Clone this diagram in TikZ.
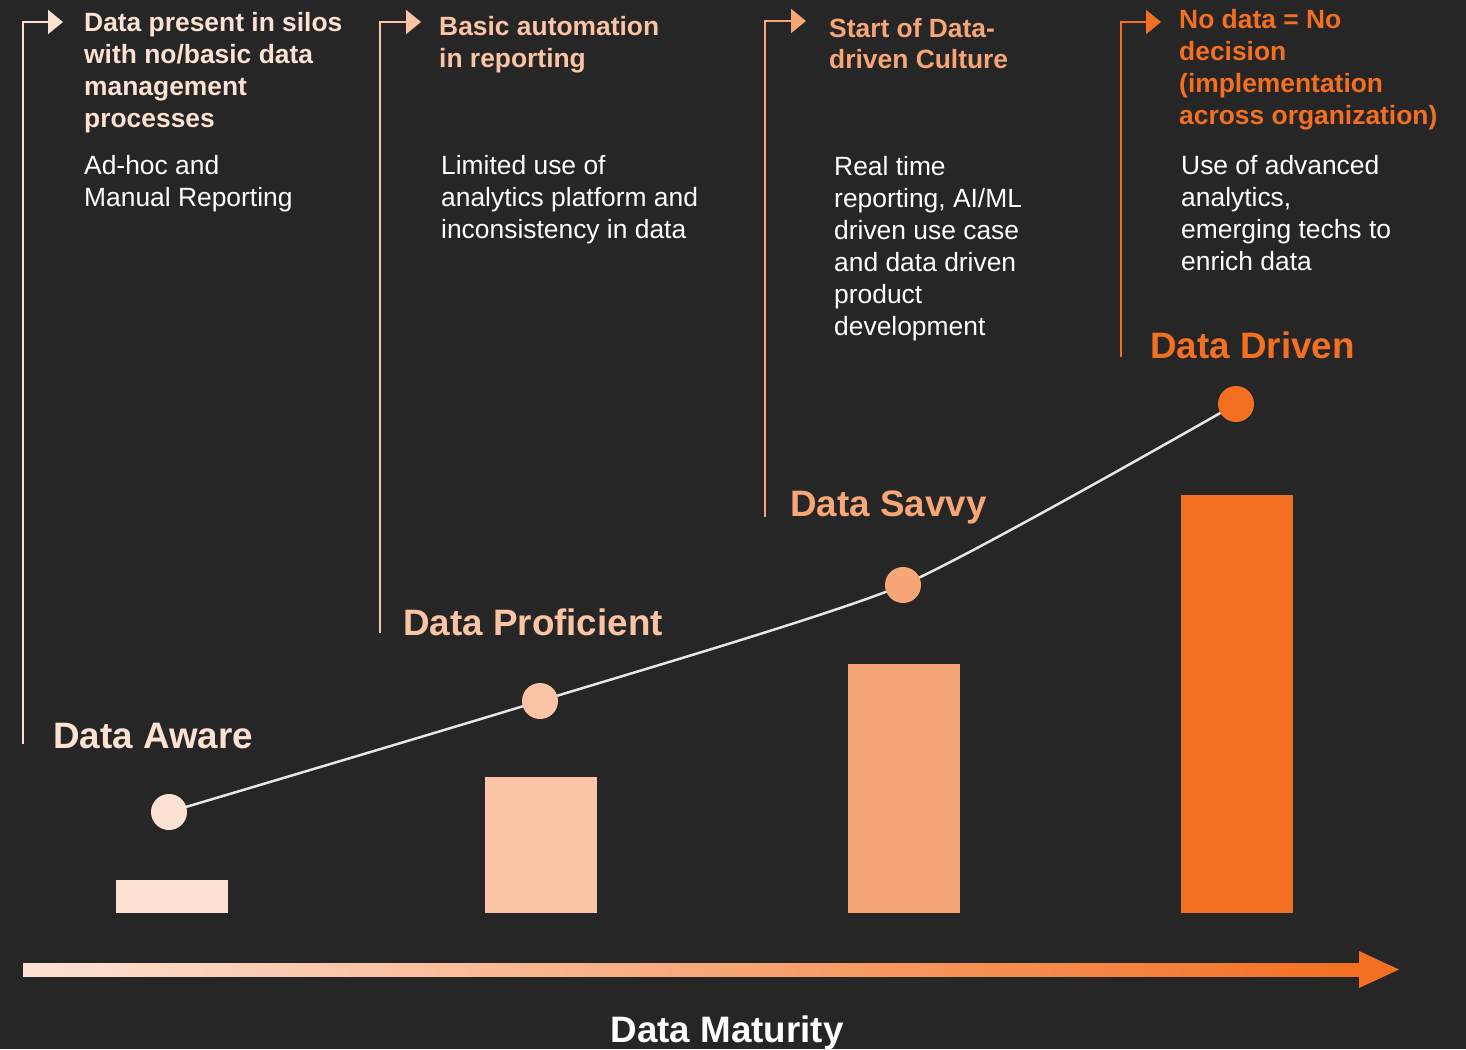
\documentclass[tikz,border=0pt]{standalone}
\usepackage{fontspec}
\setmainfont{Liberation Sans}
\usetikzlibrary{arrows.meta}
\definecolor{bg}{HTML}{262626}
\definecolor{ca}{HTML}{FDE2D4}
\definecolor{cb}{HTML}{FBC5A5}
\definecolor{cc}{HTML}{F7A677}
\definecolor{cd}{HTML}{F36F21}
\definecolor{curvecol}{HTML}{E6E6E6}
\begin{document}
\begin{tikzpicture}[x=1pt,y=-1pt,
 head/.style={font=\fontsize{26.4}{32}\selectfont\bfseries, align=left, anchor=base west, inner sep=0pt},
 body/.style={font=\fontsize{26.4}{32}\selectfont, text=white, align=left, anchor=base west, inner sep=0pt},
 stage/.style={font=\fontsize{36.8}{40}\selectfont\bfseries, anchor=base west, inner sep=0pt},
 dot/.style={circle, minimum size=36pt, inner sep=0pt},
 tick/.style={line width=2pt, -{Triangle[length=15pt,width=24pt]}}
]
\fill[bg] (0,0) rectangle (1466,1049);
\useasboundingbox (0,0) rectangle (1466,1049);

% bars
\fill[ca] (116,880) rectangle (228,913);
\fill[cb] (485,777) rectangle (597,913);
\fill[cc] (848,664) rectangle (960,913);
\fill[cd] (1181,495) rectangle (1293,913);

% curve and dots
\coordinate (p1) at (169,812);
\coordinate (p2) at (540,701);
\coordinate (p3) at (903,585);
\coordinate (p4) at (1236,404);
\draw[curvecol, line width=2.5pt] plot[smooth, tension=0.35] coordinates {(p1) (p2) (p3) (p4)};
\node[dot, fill=ca] (d1) at (p1) {};
\node[dot, fill=cb] (d2) at (p2) {};
\node[dot, fill=cc] (d3) at (p3) {};
\node[dot, fill=cd] (d4) at (p4) {};

% bracket arrows
\coordinate (v1) at (23,744);  \coordinate (t1) at (63,22);
\coordinate (v2) at (380,633); \coordinate (t2) at (421,22);
\coordinate (v3) at (765,517); \coordinate (t3) at (806,21);
\coordinate (v4) at (1121,357); \coordinate (t4) at (1161,22);
\draw[tick, ca] (v1) |- (t1);
\draw[tick, cb] (v2) |- (t2);
\draw[tick, cc] (v3) |- (t3);
\draw[tick, cd] (v4) |- (t4);

% headers and bodies (anchor = baseline of last line)
\node[head, text=ca] (h1) at (84,127) {Data present in silos\\with no/basic data\\management\\processes};
\node[body] (b1) at (84,206) {Ad-hoc and\\Manual Reporting};
\node[head, text=cb] (h2) at (439,67) {Basic automation\\in reporting};
\node[body] (b2) at (441,238) {Limited use of\\analytics platform and\\inconsistency in data};
\node[head, text=cc] (h3) at (829,69) {Start of Data-\\driven Culture};
\node[body] (b3) at (834,335) {Real time\\reporting, AI/ML\\driven use case\\and data driven\\product\\development};
\node[head, text=cd] (h4) at (1179,124) {No data = No\\decision\\(implementation\\across organization)};
\node[body] (b4) at (1181,270) {Use of advanced\\analytics,\\emerging techs to\\enrich data};

% stage labels
\node[stage, text=ca] (s1) at (53,748) {Data Aware};
\node[stage, text=cb] (s2) at (403,635) {Data Proficient};
\node[stage, text=cc] (s3) at (790,516) {Data Savvy};
\node[stage, text=cd] (s4) at (1150,358) {Data Driven};

% maturity axis
\shade[left color=ca, right color=cd] (23,963) rectangle (1359.5,976);
\fill[cd] (1359,951) -- (1399,969.5) -- (1359,988) -- cycle;
\node[font=\fontsize{36.8}{40}\selectfont\bfseries, text=white, anchor=base, inner sep=0pt] (axis) at (727,1042) {Data Maturity};
\end{tikzpicture}
\end{document}
